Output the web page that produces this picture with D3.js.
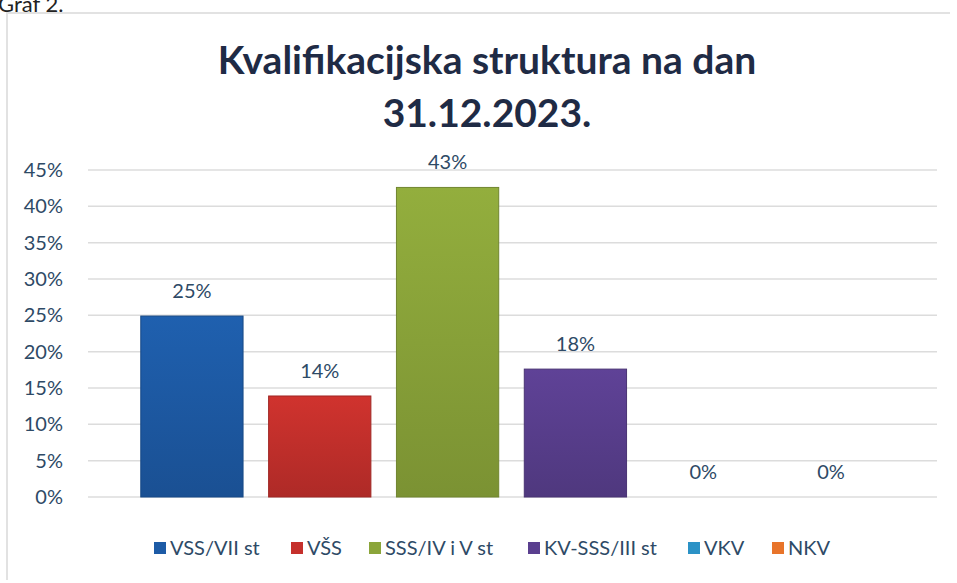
<!DOCTYPE html>
<html>
<head>
<meta charset="utf-8">
<script src="https://cdn.jsdelivr.net/npm/d3@7"></script>
<style>
  body { margin: 0; background: #fff; }
  text { font-family: Lato, "Open Sans", sans-serif; }
</style>
</head>
<body>
<svg id="chart" width="957" height="583"></svg>
<script>
// data
var series = ["VSS/VII st", "VŠS", "SSS/IV i V st", "KV-SSS/III st", "VKV", "NKV"];
var values = [0.249, 0.139, 0.426, 0.176, 0, 0];
var colors = ["#1d5ba6", "#c5302c", "#8ba53a", "#5a3f8f", "#2b92c6", "#e8742a"];
var yTicks = [0, 0.05, 0.10, 0.15, 0.20, 0.25, 0.30, 0.35, 0.40, 0.45];
var titleLines = ["Kvalifikacijska struktura na dan", "31.12.2023."];

var svg = d3.select("#chart");

//caption cut off at the top of the scan
svg.append("text")
    .attr("x", -2).attr("y", 12)
    .style("font-size", "22px").style("fill", "#222")
    .text("Graf 2.");

//chart frame
svg.append("path")
    .attr("d", "M7,580 L7,13 L950,13")
    .attr("fill", "none").attr("stroke", "#e2e2e2").attr("stroke-width", 2);

var x = d3.scaleBand().domain(series).range([128, 895]).paddingInner(0.2).paddingOuter(0.1);
var y = d3.scaleLinear().domain([0, 0.45]).range([497, 170]);

//gradients for the bars
var defs = svg.append("defs");
colors.forEach(function(c, i) {
    var g = defs.append("linearGradient").attr("id", "g" + i)
        .attr("x1", 0).attr("y1", 0).attr("x2", 0).attr("y2", 1);
    g.append("stop").attr("offset", "0%").attr("stop-color", d3.color(c).brighter(0.15));
    g.append("stop").attr("offset", "100%").attr("stop-color", d3.color(c).darker(0.35));
});

//gridlines
svg.append("g").selectAll("line").data(yTicks).enter().append("line")
    .attr("x1", 88).attr("x2", 937)
    .attr("y1", function(d) { return y(d); }).attr("y2", function(d) { return y(d); })
    .attr("stroke", "#dcdcdc").attr("stroke-width", 1.5);

//y axis
var yAxis = svg.append("g").attr("transform", "translate(66,0)")
    .call(d3.axisLeft(y).tickValues(yTicks).tickFormat(d3.format(".0%")).tickSize(0));
yAxis.select(".domain").remove();
yAxis.selectAll("text")
    .style("font-family", "Lato, sans-serif").style("font-size", "20px").style("fill", "#2e4a66");

//bars
svg.append("g").selectAll("rect").data(values).enter().append("rect")
    .attr("x", function(d, i) { return x(series[i]); })
    .attr("width", x.bandwidth())
    .attr("y", function(d) { return y(d); })
    .attr("height", function(d) { return y(0) - y(d); })
    .attr("fill", function(d, i) { return "url(#g" + i + ")"; })
    .attr("stroke", function(d, i) { return d ? d3.color(colors[i]).darker(0.6) : "none"; })
    .attr("stroke-width", 1);

//value labels
svg.append("g").selectAll("text").data(values).enter().append("text")
    .attr("x", function(d, i) { return x(series[i]) + x.bandwidth() / 2; })
    .attr("y", function(d) { return y(d) - 18; })
    .attr("text-anchor", "middle")
    .style("font-size", "20px").style("fill", "#2e4a66")
    .text(function(d) { return d3.format(".0%")(d); });

//title
svg.append("g").selectAll("text").data(titleLines).enter().append("text")
    .attr("x", 487).attr("y", function(d, i) { return 74 + i * 53; })
    .attr("text-anchor", "middle")
    .style("font-size", "39px").style("font-weight", "bold").style("fill", "#1f2b45")
    .text(function(d) { return d; });

//legend
var legendX = [154, 291, 369, 528, 688, 772];
var legend = svg.append("g").selectAll("g").data(series).enter().append("g")
    .attr("transform", function(d, i) { return "translate(" + legendX[i] + ",548)"; });
legend.append("rect")
    .attr("x", 0).attr("y", -6).attr("width", 12).attr("height", 12)
    .attr("fill", function(d, i) { return colors[i]; });
legend.append("text")
    .attr("x", 16).attr("y", 7)
    .style("font-size", "20px").style("fill", "#2e4a66")
    .text(function(d) { return d; });
</script>
</body>
</html>
